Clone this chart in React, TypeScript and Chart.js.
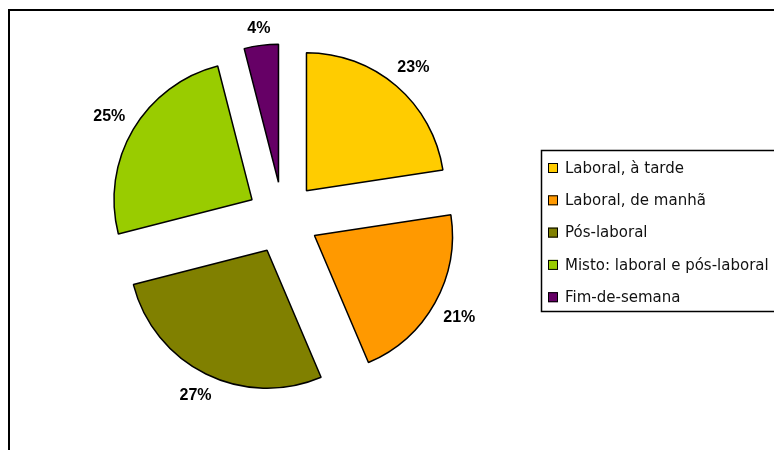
import React, { useEffect, useRef } from "react";
import { Chart, registerables } from "chart.js";

Chart.register(...registerables);

const categories = [
  "Laboral, à tarde",
  "Laboral, de manhã",
  "Pós-laboral",
  "Misto: laboral e pós-laboral",
  "Fim-de-semana",
];
const percentages = [22.6, 21.0, 27.4, 25.0, 4.0];
const sliceColors = ["#FFCC00", "#FF9900", "#808000", "#99CC00", "#660066"];

const EXPLODE = 36;
const RADIUS = 138;
const LABEL_GAP = 11;
const LABEL_H = 12;

const piePlugin = {
  id: "pieExtras",
  afterDatasetsUpdate(chart: any) {
    const meta = chart.getDatasetMeta(0);
    meta.data.forEach((arc: any) => {
      const a = (arc.startAngle + arc.endAngle) / 2;
      arc.x += Math.cos(a) * EXPLODE;
      arc.y += Math.sin(a) * EXPLODE;
    });
  },
  beforeDraw(chart: any) {
    const ctx = chart.ctx;
    ctx.save();
    ctx.fillStyle = "#fff";
    ctx.fillRect(0, 0, chart.width, chart.height);
    ctx.strokeStyle = "#000";
    ctx.lineWidth = 2;
    ctx.strokeRect(9, 10, 1000, 1000);
    ctx.restore();
  },
  afterDatasetsDraw(chart: any) {
    const ctx = chart.ctx;
    const meta = chart.getDatasetMeta(0);
    const values = chart.data.datasets[0].data;
    ctx.save();
    ctx.font = "bold 16px 'Liberation Sans', Arial, sans-serif";
    ctx.fillStyle = "#000";
    ctx.textAlign = "center";
    ctx.textBaseline = "middle";
    meta.data.forEach((arc: any, i: number) => {
      const a = (arc.startAngle + arc.endAngle) / 2;
      const txt = Math.round(values[i]) + "%";
      const w = ctx.measureText(txt).width;
      const cx = Math.cos(a);
      const cy = Math.sin(a);
      const d = arc.outerRadius + LABEL_GAP + Math.abs(cx) * w / 2 + Math.abs(cy) * LABEL_H / 2;
      ctx.fillText(txt, arc.x + cx * d, arc.y + cy * d + 1);
    });
    ctx.restore();
  },
  afterDraw(chart: any) {
    const ctx = chart.ctx;
    const labels = chart.data.labels;
    const colors = chart.data.datasets[0].backgroundColor;
    ctx.save();
    ctx.strokeStyle = "#000";
    ctx.lineWidth = 1.5;
    ctx.strokeRect(541.5, 150.5, 400, 161);
    ctx.font = "15px 'DejaVu Sans', sans-serif";
    ctx.textAlign = "left";
    ctx.textBaseline = "middle";
    labels.forEach((lab: string, i: number) => {
      const y = 168 + i * 32.3;
      ctx.fillStyle = colors[i];
      ctx.fillRect(548, y - 5, 10, 10);
      ctx.lineWidth = 1;
      ctx.strokeStyle = "#000";
      ctx.strokeRect(548.5, y - 4.5, 9, 9);
      ctx.fillStyle = "#111";
      ctx.fillText(lab, 565, y + 1);
    });
    ctx.restore();
  },
};

export default function App() {
  const ref = useRef<HTMLCanvasElement | null>(null);
  useEffect(() => {
    if (!ref.current) return;
    const chart = new Chart(ref.current, {
      type: "pie",
      data: {
        labels: categories,
        datasets: [
          {
            data: percentages,
            backgroundColor: sliceColors,
            borderColor: "#000",
            borderWidth: 1.5,
            radius: RADIUS,
          } as any,
        ],
      },
      options: {
        animation: false,
        responsive: false,
        devicePixelRatio: 1,
        layout: { padding: { left: 0, top: 0, right: 208, bottom: 14 } },
        plugins: {
          legend: { display: false },
          tooltip: { enabled: false },
          title: { display: false },
        },
      },
      plugins: [piePlugin],
    });
    return () => chart.destroy();
  }, []);
  return (
    <div style={{ position: "absolute", left: 0, top: 0, width: 774, height: 450 }}>
      <canvas ref={ref} width={774} height={450} style={{ display: "block" }} />
    </div>
  );
}
